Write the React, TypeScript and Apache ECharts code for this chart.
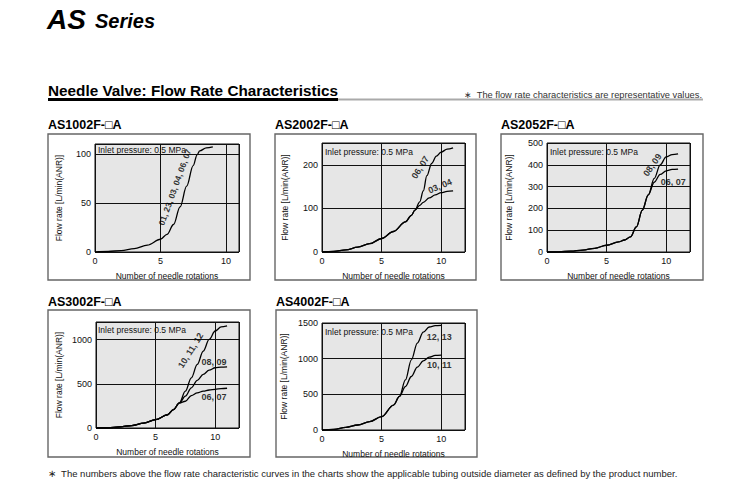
import React, { useEffect, useRef } from "react";
import * as echarts from "echarts";

// ---------- data ----------
const xTicks = [0, 5, 10];

// AS1002F
const rot1 = [0, 1, 2, 3, 4, 5, 5.5, 6, 6.5, 7, 7.5, 7.8, 8, 8.5, 9];
const flow1 = [0, 0.5, 1.5, 3.5, 7, 13, 18, 28, 46, 67, 88, 99, 103, 106, 107];

// AS2002F
const rot2a = [0, 1, 2, 3, 4, 5, 6, 7, 7.5, 7.8, 8.2, 8.5, 8.8, 9.2, 9.6, 10, 10.5, 11];
const flow2a = [0, 1.5, 5, 11, 19, 31, 47, 69, 84, 96, 115, 140, 175, 203, 220, 229, 236, 239];
const rot2b = [0, 1, 2, 3, 4, 5, 6, 7, 7.5, 7.8, 8.2, 8.5, 9, 9.5, 10, 10.5, 11];
const flow2b = [0, 1.5, 5, 11, 19, 31, 47, 69, 84, 96, 107, 114, 124, 131, 136, 139, 140];

// AS2052F
const rot3a = [0, 1, 2, 3, 4, 5, 6, 6.5, 7, 7.5, 8, 8.5, 9, 9.5, 10, 10.5, 11];
const flow3a = [0, 1, 4, 9, 17, 31, 46, 55, 69, 115, 192, 262, 338, 400, 436, 447, 450];
const rot3b = [0, 1, 2, 3, 4, 5, 6, 6.5, 7, 7.5, 8, 8.5, 9, 9.5, 10, 10.5, 11];
const flow3b = [0, 1, 4, 9, 17, 31, 46, 55, 69, 115, 192, 262, 320, 356, 372, 379, 380];

// AS3002F
const rot4 = [0, 1, 2, 3, 4, 5, 6, 6.5, 7, 7.5, 8, 8.5, 9, 9.5, 10, 10.5, 11];
const flow4a = [0, 3, 12, 28, 55, 95, 150, 208, 284, 417, 568, 720, 871, 1004, 1098, 1144, 1155];
const flow4b = [0, 3, 12, 28, 55, 95, 150, 208, 284, 360, 455, 540, 606, 655, 682, 690, 693];
const flow4c = [0, 3, 12, 28, 55, 95, 150, 208, 284, 303, 367, 398, 417, 430, 438, 446, 450];

// AS4002F
const rot5 = [0, 1, 2, 3, 4, 5, 6, 6.5, 7, 7.5, 8, 8.5, 9, 9.5, 10];
const flow5a = [0, 10, 37, 70, 117, 187, 350, 470, 703, 984, 1219, 1373, 1444, 1462, 1467];
const flow5b = [0, 10, 37, 70, 117, 187, 350, 470, 609, 750, 881, 970, 1022, 1045, 1050];

// curve labels: [text, x, y, rotation]
const labels1: [string, number, number, number][] = [["01, 23, 03, 04, 06, 07", 6.1, 66, 70]];
const labels2: [string, number, number, number][] = [
  ["06, 07", 8.25, 194, 58],
  ["03, 04", 9.9, 151, 23],
];
const labels3: [string, number, number, number][] = [
  ["08, 09", 8.85, 399, 55],
  ["06, 07", 10.6, 321, 0],
];
const labels4: [string, number, number, number][] = [
  ["10, 11, 12", 7.95, 878, 58],
  ["08, 09", 9.9, 747, 0],
  ["06, 07", 9.9, 351, 0],
];
const labels5: [string, number, number, number][] = [
  ["12, 13", 9.83, 1304, 0],
  ["10, 11", 9.83, 911, 0],
];

const titles = ["AS1002F-□A", "AS2002F-□A", "AS2052F-□A", "AS3002F-□A", "AS4002F-□A"];
const xName = "Number of needle rotations";
const yName = "Flow rate [L/min(ANR)]";
const inletText = "Inlet pressure: 0.5 MPa";

const FONT = "'Liberation Sans', Arial, Helvetica, sans-serif";

const zip = (xs: number[], ys: number[]) => xs.map((x, i) => [x, ys[i]]);

export default function App() {
  const ref = useRef<HTMLDivElement>(null);
  useEffect(() => {
    document.body.style.margin = "0";
    const chart = echarts.init(ref.current!, null, { renderer: "svg" });

    const grids = [
      { left: 95, top: 144, width: 144, height: 108 },
      { left: 322, top: 143, width: 143, height: 109 },
      { left: 547, top: 143, width: 143, height: 109 },
      { left: 96, top: 322, width: 143, height: 106 },
      { left: 322, top: 323, width: 143, height: 107 },
    ];
    const xMax = [11, 12, 12, 12, 12];
    const yMax = [110, 250, 500, 1200, 1500];
    const yInt = [50, 100, 100, 500, 500];
    const yNameGap = [32, 33, 34, 33, 34];

    const gridOpts = grids.map((g) => ({
      ...g,
      show: true,
      backgroundColor: "#e6e6e6",
      borderColor: "#111",
      borderWidth: 1,
      containLabel: false,
    }));

    const xAxes = grids.map((_, i) => ({
      type: "value",
      gridIndex: i,
      min: 0,
      max: xMax[i],
      interval: 5,
      name: xName,
      nameLocation: "middle",
      nameGap: 19,
      nameTextStyle: { fontFamily: FONT, fontSize: 8.5, color: "#111" },
      axisLine: { show: false },
      axisTick: { show: false },
      axisLabel: {
        showMaxLabel: false,
        fontFamily: FONT,
        fontSize: 9,
        color: "#111",
        margin: 4,
        formatter: (v: number) => (xTicks.includes(v) ? String(v) : ""),
      },
      splitLine: { show: true, lineStyle: { color: "#111", width: 1 } },
    }));

    const yAxes = grids.map((_, i) => ({
      type: "value",
      gridIndex: i,
      min: 0,
      max: yMax[i],
      interval: yInt[i],
      name: yName,
      nameLocation: "middle",
      nameGap: yNameGap[i],
      nameRotate: 90,
      nameTextStyle: { fontFamily: FONT, fontSize: 8.5, color: "#111" },
      axisLine: { show: false },
      axisTick: { show: false },
      axisLabel: {
        showMaxLabel: yMax[i] % yInt[i] === 0,
        fontFamily: FONT,
        fontSize: 9,
        color: "#111",
        margin: 4,
        formatter: (v: number) => (v % yInt[i] === 0 ? String(v) : ""),
      },
      splitLine: { show: true, lineStyle: { color: "#111", width: 1 } },
    }));

    const line = (i: number, xs: number[], ys: number[]) => ({
      type: "line",
      xAxisIndex: i,
      yAxisIndex: i,
      data: zip(xs, ys),
      smooth: 0.35,
      smoothMonotone: "x",
      showSymbol: false,
      symbol: "none",
      lineStyle: { color: "#000", width: 1.3 },
      silent: true,
      z: 5,
    });

    const labelSeries = (i: number, arr: [string, number, number, number][]) =>
      arr.map(([text, x, y, rot]) => ({
        type: "scatter",
        xAxisIndex: i,
        yAxisIndex: i,
        data: [[x, y]],
        symbolSize: 0,
        silent: true,
        z: 10,
        label: {
          show: true,
          position: "inside",
          formatter: text,
          rotate: rot,
          fontFamily: FONT,
          fontSize: i === 0 ? 8.5 : 9,
          fontWeight: "bold",
          color: "#000",
        },
      }));

    const series: any[] = [
      line(0, rot1, flow1),
      line(1, rot2a, flow2a),
      line(1, rot2b, flow2b),
      line(2, rot3a, flow3a),
      line(2, rot3b, flow3b),
      line(3, rot4, flow4a),
      line(3, rot4, flow4b),
      line(3, rot4, flow4c),
      line(4, rot5, flow5a),
      line(4, rot5, flow5b),
      ...labelSeries(0, labels1),
      ...labelSeries(1, labels2),
      ...labelSeries(2, labels3),
      ...labelSeries(3, labels4),
      ...labelSeries(4, labels5),
    ];

    const boxes = [
      { x: 48, y: 134, w: 202, h: 146 },
      { x: 275, y: 134, w: 201, h: 146 },
      { x: 501, y: 134, w: 202, h: 146 },
      { x: 48, y: 310, w: 202, h: 147 },
      { x: 276, y: 310, w: 201, h: 147 },
    ];
    const titlePos = [
      [48, 125],
      [275, 125],
      [501, 125],
      [48, 302],
      [276, 302],
    ];
    const inletPos = [
      [98, 150],
      [325, 152],
      [550, 152],
      [98, 330],
      [325, 332],
    ];

    const txt = (text: string, x: number, y: number, size: number, extra: any = {}) => ({
      type: "text",
      x,
      y,
      silent: true,
      z: 20,
      ...(extra.scaleX ? { scaleX: extra.scaleX } : {}),
      style: {
        text,
        fontFamily: FONT,
        fontSize: size,
        fontWeight: extra.weight || "normal",
        fontStyle: extra.style || "normal",
        fill: extra.fill || "#111",
        align: extra.align || "left",
        verticalAlign: "middle",
      },
    });

    const graphic: any[] = [
      txt("AS", 47, 19, 28, { weight: "bold", style: "italic", fill: "#000" }),
      txt("Series", 95, 21, 20, { weight: "bold", style: "italic", fill: "#000" }),
      txt("Needle Valve: Flow Rate Characteristics", 48, 90, 15.3, { weight: "bold", fill: "#000" }),
      txt("∗  The flow rate characteristics are representative values.", 702, 95, 9.3, {
        align: "right",
        fill: "#333",
      }),
      txt(
        "∗  The numbers above the flow rate characteristic curves in the charts show the applicable tubing outside diameter as defined by the product number.",
        48,
        473,
        9.5,
        { fill: "#222" }
      ),
      { type: "line", shape: { x1: 48, y1: 99.5, x2: 338, y2: 99.5 }, style: { stroke: "#000", lineWidth: 3 } },
      { type: "line", shape: { x1: 338, y1: 99.5, x2: 703, y2: 99.5 }, style: { stroke: "#aaa", lineWidth: 2 } },
      ...boxes.map((b) => ({
        type: "rect",
        shape: { x: b.x, y: b.y, width: b.w, height: b.h },
        style: { fill: "none", stroke: "#666", lineWidth: 1.4 },
        silent: true,
      })),
      ...titles.map((t, i) => txt(t, titlePos[i][0], titlePos[i][1], 12.5, { weight: "bold", fill: "#000" })),
      ...inletPos.map((p) => txt(inletText, p[0], p[1], 8.5, { fill: "#111" })),
    ];

    chart.setOption({
      animation: false,
      backgroundColor: "#fff",
      grid: gridOpts,
      xAxis: xAxes,
      yAxis: yAxes,
      series,
      graphic,
    } as any);

    return () => chart.dispose();
  }, []);

  return <div ref={ref} style={{ width: 750, height: 492 }} />;
}
